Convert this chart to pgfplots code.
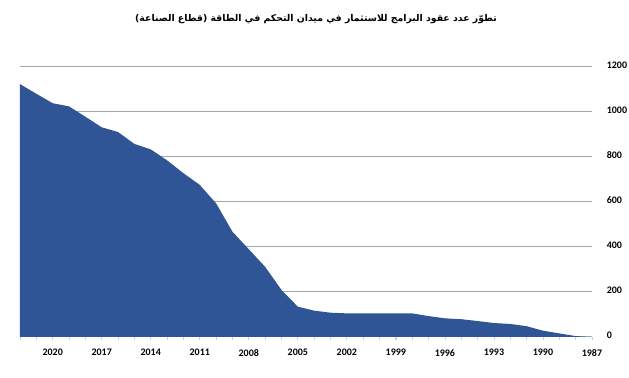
\documentclass[border=0pt]{standalone}
\usepackage{pgfplots}
\pgfplotsset{compat=1.18}
\usepackage{fontspec}
\setmainfont{Carlito}
\newfontfamily\arabicfont[Script=Arabic]{DejaVu Sans}
\TeXXeTstate=1
\definecolor{areablue}{HTML}{2F5597}
\definecolor{gridgray}{HTML}{A6A6A6}
\definecolor{axisgray}{HTML}{D0D0D0}
\begin{document}
\begin{tikzpicture}
\path[use as bounding box] (0,0) rectangle (471.75pt,283.5pt);
\node[font=\arabicfont\bfseries\fontsize{7}{9}\selectfont] at (237pt,269.5pt) {\beginR تطوّر عدد عقود البرامج للاستثمار في ميدان التحكم في الطاقة  (قطاع الصناعة)\endR};
\begin{axis}[
  at={(15pt,30.75pt)}, anchor=south west,
  scale only axis, width=429pt, height=202.5pt,
  x dir=reverse,
  xmin=1987, xmax=2022, ymin=0, ymax=1200,
  xtick={1987,1990,...,2020},
  minor xtick={1987,...,2022},
  ytick={0,200,...,1200},
  ymajorgrids, grid style={gridgray, line width=0.75pt},
  axis x line*=bottom, axis y line*=right,
  y axis line style={draw=none},
  x axis line style={axisgray, line width=0.75pt},
  tick align=outside,
  major tick length=2.6pt, minor tick length=2.6pt,
  xtick style={axisgray, line width=0.6pt},
  minor tick style={axisgray, line width=0.6pt},
  ytick style={draw=none},
  /pgf/number format/assume math mode=true,
  /pgf/number format/set thousands separator={},
  tick label style={font=\bfseries\fontsize{7.5}{9}\selectfont, black},
  xticklabel style={yshift=-3pt},
  yticklabel style={anchor=west, xshift=5pt, yshift=1.5pt},
  clip=false,
]
\addplot[fill=areablue, draw=none] coordinates {
(2022,1124) (2021,1081) (2020,1039) (2019,1025) (2018,979) (2017,932)
(2016,911) (2015,858) (2014,834) (2013,785) (2012,728) (2011,676)
(2010,594) (2009,468) (2008,390) (2007,312) (2006,209) (2005,135)
(2004,117) (2003,108) (2002,105) (2001,105) (2000,105) (1999,105)
(1998,105) (1997,93) (1996,83) (1995,79) (1994,71) (1993,62)
(1992,58) (1991,48) (1990,28) (1989,16) (1988,4) (1987,1)
} \closedcycle;
\end{axis}
\end{tikzpicture}
\end{document}
